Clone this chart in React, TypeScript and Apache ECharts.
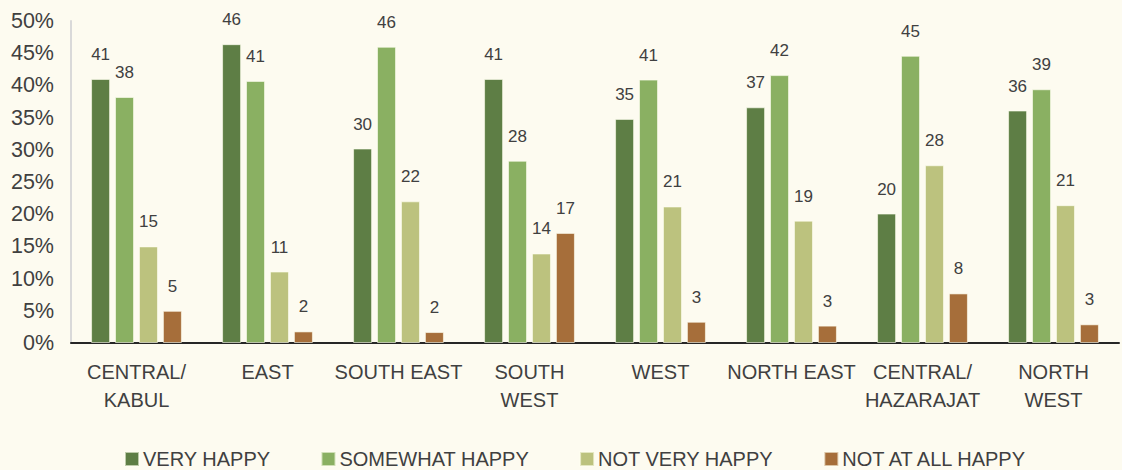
import React, { useEffect, useRef } from "react";
import * as echarts from "echarts";

const categories = [
  "CENTRAL/\nKABUL",
  "EAST",
  "SOUTH EAST",
  "SOUTH\nWEST",
  "WEST",
  "NORTH EAST",
  "CENTRAL/\nHAZARAJAT",
  "NORTH\nWEST",
];

const seriesNames = ["VERY HAPPY", "SOMEWHAT HAPPY", "NOT VERY HAPPY", "NOT AT ALL HAPPY"];

const veryHappy = [41.0, 46.4, 30.2, 41.0, 34.8, 36.6, 20.1, 36.1];
const somewhatHappy = [38.2, 40.7, 46.0, 28.3, 40.9, 41.6, 44.6, 39.4];
const notVeryHappy = [15.0, 11.1, 22.0, 13.9, 21.2, 19.0, 27.6, 21.4];
const notAtAllHappy = [5.0, 1.8, 1.7, 17.1, 3.3, 2.7, 7.7, 2.9];

const yTicks = [0, 5, 10, 15, 20, 25, 30, 35, 40, 45, 50];

const colors = ["#5E7E45", "#8AB062", "#BCC27E", "#A66E3A"];

export default function App() {
  const ref = useRef<HTMLDivElement>(null);

  useEffect(() => {
    if (!ref.current) return;
    const chart = echarts.init(ref.current, undefined, { renderer: "svg" });
    const font = "'Liberation Sans', Arial, sans-serif";
    const textColor = "#404040";
    const allData = [veryHappy, somewhatHappy, notVeryHappy, notAtAllHappy];
    chart.setOption({
      animation: false,
      backgroundColor: "#FDFBF0",
      textStyle: { fontFamily: font },
      grid: { left: 71, right: 3, top: 21, bottom: 127, containLabel: false },
      legend: {
        top: 444,
        left: 119,
        itemWidth: 14,
        itemHeight: 14,
        itemGap: 50,
        icon: "rect",
        textStyle: { color: textColor, fontSize: 20, fontFamily: font, padding: [0, 0, 0, -1] },
        data: seriesNames,
      },
      xAxis: {
        type: "category",
        data: categories,
        axisLine: { show: true, lineStyle: { color: "#262626", width: 2 } },
        axisTick: { show: false },
        axisLabel: {
          color: textColor,
          fontSize: 20,
          fontFamily: font,
          lineHeight: 28,
          margin: 15,
          interval: 0,
        },
      },
      yAxis: {
        type: "value",
        min: yTicks[0],
        max: yTicks[yTicks.length - 1],
        interval: 5,
        axisLine: { show: true, lineStyle: { color: "#D9D9D9", width: 2 } },
        axisTick: { show: false },
        splitLine: { show: false },
        axisLabel: {
          color: textColor,
          fontSize: 21.5,
          fontFamily: font,
          margin: 17,
          formatter: (v: number) => `${v}%`,
        },
      },
      series: seriesNames.map((name, i) => ({
        name,
        type: "bar",
        data: allData[i],
        barWidth: 19,
        barGap: "26%",
        itemStyle: { color: colors[i], borderColor: "rgba(255,255,240,0.6)", borderWidth: 1 },
        label: {
          show: true,
          position: "top",
          distance: 16,
          color: textColor,
          fontSize: 17,
          fontFamily: font,
          formatter: (p: any) => `${Math.round(p.value)}`,
        },
      })),
    });
    return () => chart.dispose();
  }, []);

  return (
    <div
      ref={ref}
      style={{ position: "absolute", left: 0, top: 0, width: 1122, height: 470 }}
    />
  );
}
